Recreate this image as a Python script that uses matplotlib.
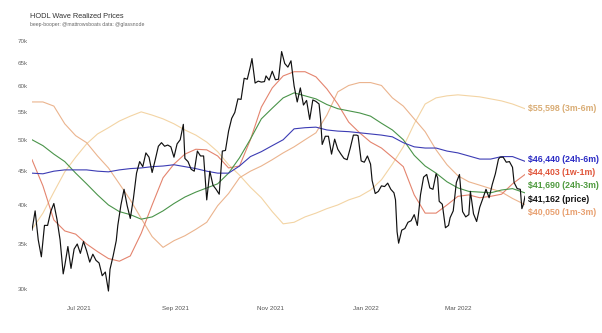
import numpy as np
import pandas as pd
import matplotlib
matplotlib.use("Agg")
import matplotlib.pyplot as plt
from matplotlib.ticker import FixedLocator, NullLocator, FuncFormatter

# --- data (values in $k) ---
price_dates = [
    "2021-06-01", "2021-06-03", "2021-06-05", "2021-06-07", "2021-06-09", "2021-06-11",
    "2021-06-13", "2021-06-15", "2021-06-17", "2021-06-19", "2021-06-21", "2021-06-22",
    "2021-06-24", "2021-06-26", "2021-06-28", "2021-06-30", "2021-07-02", "2021-07-04",
    "2021-07-06", "2021-07-08", "2021-07-10", "2021-07-12", "2021-07-14", "2021-07-16",
    "2021-07-18", "2021-07-20", "2021-07-21", "2021-07-23", "2021-07-25", "2021-07-26",
    "2021-07-28", "2021-07-30", "2021-08-01", "2021-08-03", "2021-08-05", "2021-08-07",
    "2021-08-09", "2021-08-11", "2021-08-13", "2021-08-15", "2021-08-17", "2021-08-19",
    "2021-08-21", "2021-08-23", "2021-08-25", "2021-08-27", "2021-08-29", "2021-08-31",
    "2021-09-02", "2021-09-04", "2021-09-06", "2021-09-07", "2021-09-09", "2021-09-11",
    "2021-09-13", "2021-09-15", "2021-09-17", "2021-09-19", "2021-09-21", "2021-09-23",
    "2021-09-25", "2021-09-27", "2021-09-29", "2021-10-01", "2021-10-03", "2021-10-05",
    "2021-10-07", "2021-10-09", "2021-10-11", "2021-10-13", "2021-10-15", "2021-10-17",
    "2021-10-19", "2021-10-20", "2021-10-22", "2021-10-24", "2021-10-26", "2021-10-28",
    "2021-10-29", "2021-10-31", "2021-11-02", "2021-11-04", "2021-11-06", "2021-11-08",
    "2021-11-10", "2021-11-12", "2021-11-14", "2021-11-16", "2021-11-18", "2021-11-20",
    "2021-11-22", "2021-11-24", "2021-11-26", "2021-11-28", "2021-11-30", "2021-12-02",
    "2021-12-03", "2021-12-04", "2021-12-06", "2021-12-08", "2021-12-10", "2021-12-12",
    "2021-12-14", "2021-12-16", "2021-12-18", "2021-12-20", "2021-12-22", "2021-12-24",
    "2021-12-26", "2021-12-27", "2021-12-29", "2021-12-31", "2022-01-02", "2022-01-04",
    "2022-01-05", "2022-01-07", "2022-01-09", "2022-01-11", "2022-01-13", "2022-01-15",
    "2022-01-17", "2022-01-19", "2022-01-20", "2022-01-21", "2022-01-22", "2022-01-24",
    "2022-01-26", "2022-01-28", "2022-01-30", "2022-02-01", "2022-02-03", "2022-02-05",
    "2022-02-07", "2022-02-09", "2022-02-11", "2022-02-13", "2022-02-15", "2022-02-16",
    "2022-02-17", "2022-02-19", "2022-02-21", "2022-02-23", "2022-02-24", "2022-02-26",
    "2022-02-28", "2022-03-02", "2022-03-04", "2022-03-06", "2022-03-08", "2022-03-09",
    "2022-03-11", "2022-03-13", "2022-03-15", "2022-03-17", "2022-03-19", "2022-03-21",
    "2022-03-23", "2022-03-25", "2022-03-27", "2022-03-28", "2022-03-30", "2022-04-01",
    "2022-04-03", "2022-04-05", "2022-04-06", "2022-04-08", "2022-04-10", "2022-04-11",
    "2022-04-12", "2022-04-13",
]
price = [
    36.7, 39.2, 35.5, 33.5, 37.3, 37.3, 39.1, 40.2, 38.1, 35.5, 31.6, 32.5,
    34.7, 32.2, 34.4, 35.0, 33.9, 35.3, 34.2, 32.9, 33.8, 33.1, 32.8, 31.4,
    31.8, 29.8, 32.1, 33.6, 35.4, 37.3, 40.0, 42.2, 39.9, 38.2, 40.9, 44.6,
    46.4, 45.6, 47.8, 47.1, 44.7, 46.7, 48.9, 49.5, 48.9, 49.1, 48.8, 47.1,
    49.3, 50.0, 52.7, 46.9, 46.4, 45.2, 44.9, 48.1, 47.3, 47.3, 40.7, 44.9,
    42.8, 42.2, 41.5, 48.1, 48.2, 51.5, 53.8, 54.9, 57.5, 57.4, 61.7, 61.5,
    64.3, 66.0, 60.7, 61.1, 60.9, 61.0, 62.2, 61.3, 63.2, 61.4, 61.5, 67.6,
    64.9, 64.1, 65.5, 60.1, 56.9, 59.7, 56.3, 57.2, 53.6, 57.3, 57.0, 56.5,
    53.6, 49.2, 50.6, 50.6, 47.6, 50.1, 48.4, 47.6, 46.9, 46.7, 48.6, 50.8,
    50.8, 50.7, 46.5, 46.3, 47.3, 46.0, 43.5, 41.6, 41.9, 42.7, 42.6, 43.1,
    42.2, 41.7, 40.7, 36.5, 35.1, 36.7, 36.9, 37.7, 37.9, 38.7, 37.3, 41.4,
    44.0, 44.4, 42.4, 42.2, 44.5, 43.9, 40.5, 40.1, 37.0, 37.3, 38.3, 39.2,
    43.2, 44.4, 39.1, 38.4, 38.7, 41.9, 38.8, 37.8, 39.7, 40.9, 42.2, 41.0,
    42.9, 44.5, 46.8, 47.1, 47.1, 46.3, 46.4, 45.5, 43.2, 42.3, 42.2, 39.5,
    40.1, 41.2,
]

wave_dates = [
    "2021-06-01", "2021-06-08", "2021-06-15", "2021-06-22", "2021-06-29", "2021-07-06",
    "2021-07-13", "2021-07-20", "2021-07-27", "2021-08-03", "2021-08-10", "2021-08-17",
    "2021-08-24", "2021-08-31", "2021-09-07", "2021-09-14", "2021-09-21", "2021-09-28",
    "2021-10-05", "2021-10-12", "2021-10-19", "2021-10-26", "2021-11-02", "2021-11-09",
    "2021-11-16", "2021-11-23", "2021-11-30", "2021-12-07", "2021-12-14", "2021-12-21",
    "2021-12-28", "2022-01-04", "2022-01-11", "2022-01-18", "2022-01-25", "2022-02-01",
    "2022-02-08", "2022-02-15", "2022-02-22", "2022-03-01", "2022-03-08", "2022-03-15",
    "2022-03-22", "2022-03-29", "2022-04-05", "2022-04-13",
]
rp_24h_6m = [44.6, 44.5, 44.9, 45.1, 45.1, 45.1, 44.9, 44.8, 45.1, 45.3, 45.4, 45.6,
             45.7, 45.9, 45.6, 45.3, 44.9, 44.6, 44.6, 45.7, 47.2, 48.0, 49.0, 50.0,
             51.9, 52.1, 52.2, 51.7, 51.5, 51.4, 51.2, 51.0, 50.8, 50.5, 49.5, 48.8,
             48.6, 48.6, 48.1, 47.8, 47.3, 46.8, 46.8, 47.2, 47.2, 46.44]
rp_1w_1m = [46.7, 42.7, 38.0, 36.6, 36.2, 35.0, 34.1, 33.3, 33.0, 33.6, 36.3, 40.0,
            43.9, 46.0, 47.6, 48.4, 48.3, 47.3, 45.4, 45.7, 50.0, 55.9, 59.7, 62.2,
            63.1, 63.1, 62.0, 59.5, 56.5, 53.1, 51.2, 49.6, 48.6, 47.1, 45.6, 41.4,
            38.9, 38.9, 40.0, 41.2, 41.4, 41.0, 41.2, 41.5, 43.0, 44.40]
rp_24h_3m = [50.0, 49.0, 47.6, 46.4, 44.6, 43.0, 41.4, 40.0, 39.1, 38.7, 38.1, 38.4,
             39.2, 40.2, 41.1, 41.8, 42.4, 43.0, 44.6, 47.0, 50.1, 53.7, 55.7, 57.7,
             58.7, 58.1, 57.5, 56.4, 55.6, 55.2, 54.8, 54.2, 52.9, 51.7, 50.0, 47.4,
             45.7, 44.6, 43.3, 42.4, 41.9, 41.8, 41.7, 42.1, 42.3, 41.69]
rp_1m_3m = [56.9, 56.9, 56.1, 52.8, 50.7, 49.5, 47.3, 45.4, 43.0, 40.7, 38.2, 35.9,
            34.6, 35.4, 36.0, 36.8, 37.7, 39.9, 41.6, 43.9, 44.9, 45.7, 46.7, 47.8,
            48.8, 50.0, 51.2, 54.4, 58.9, 60.2, 60.8, 60.8, 60.2, 57.7, 56.1, 53.7,
            51.4, 48.3, 45.9, 44.2, 43.3, 42.8, 42.3, 41.8, 40.9, 40.05]
rp_3m_6m = [36.8, 38.9, 41.8, 44.8, 47.1, 49.3, 51.0, 52.1, 53.3, 54.2, 55.0, 54.4,
            53.7, 52.8, 51.7, 50.8, 49.6, 48.0, 45.9, 44.3, 42.5, 41.0, 39.1, 37.5,
            37.7, 38.4, 38.9, 39.5, 40.0, 40.7, 41.2, 42.1, 43.6, 46.0, 48.8, 52.8,
            56.5, 57.7, 58.1, 58.3, 58.1, 57.9, 57.5, 57.1, 56.5, 55.6]

last_values = {"3m-6m": 55598, "24h-6m": 46440, "1w-1m": 44403,
               "24h-3m": 41690, "price": 41162, "1m-3m": 40050}
yticks_k = [30, 35, 40, 45, 50, 55, 60, 65, 70]

# --- plot ---
plt.rcParams["font.family"] = ["Liberation Sans", "DejaVu Sans"]
fig = plt.figure(figsize=(6.02, 3.33), dpi=100)
ax = fig.add_axes([32 / 602, 41 / 333, 493 / 602, 256 / 333])

wd = pd.to_datetime(wave_dates)
series = [
    ("3m-6m", rp_3m_6m, "#f3d4a4", "#d9ac74"),
    ("1m-3m", rp_1m_3m, "#ebb48e", "#e8a070"),
    ("1w-1m", rp_1w_1m, "#e4846e", "#e0553a"),
    ("24h-3m", rp_24h_3m, "#4a944a", "#4e9a3e"),
    ("24h-6m", rp_24h_6m, "#3c3cb4", "#2a2ac4"),
]
label_colors = {}
for name, vals, lc, tc in series:
    ax.plot(wd, np.array(vals) * 1000, color=lc, lw=0.8)
    label_colors[name] = tc
ax.plot(pd.to_datetime(price_dates), np.array(price) * 1000, color="#111111", lw=0.85)
label_colors["price"] = "#111111"

ax.set_yscale("log")
ax.set_ylim(29700, 71300)
ax.set_xlim(pd.Timestamp("2021-06-01"), pd.Timestamp("2022-04-13"))
ax.yaxis.set_major_locator(FixedLocator([k * 1000 for k in yticks_k]))
ax.yaxis.set_minor_locator(NullLocator())
ax.yaxis.set_major_formatter(FuncFormatter(lambda v, p: f"{v / 1000:.0f}k"))
xt = pd.to_datetime(["2021-07-01", "2021-09-01", "2021-11-01", "2022-01-01", "2022-03-01"])
ax.set_xticks(xt)
ax.set_xticklabels([d.strftime("%b %Y") for d in xt])
ax.tick_params(axis="y", length=0, labelsize=4.5, labelcolor="#666666", pad=3)
ax.tick_params(axis="x", length=0, labelsize=4.5, labelcolor="#555555", pad=10)
for s in ax.spines.values():
    s.set_visible(False)

# right-hand labels, nudged apart in log space
names = sorted(last_values, key=lambda n: -last_values[n])
ys = np.log([last_values[n] for n in names])
gap = 0.045
for _ in range(200):
    for i in range(len(ys) - 1):
        d = ys[i] - ys[i + 1]
        if d < gap:
            ys[i] += (gap - d) / 2
            ys[i + 1] -= (gap - d) / 2
for n, y in zip(names, ys):
    ax.annotate(f"${last_values[n]:,} ({n})", xy=(1, np.exp(y)),
                xycoords=ax.get_yaxis_transform(), xytext=(2.5, 0),
                textcoords="offset points", va="center", ha="left",
                fontsize=6.3, fontweight="bold", color=label_colors[n],
                annotation_clip=False)

fig.text(30 / 602, 1 - 17 / 333, "HODL Wave Realized Prices", fontsize=5.3,
         color="#333333", va="center")
fig.text(30 / 602, 1 - 24.5 / 333, "beep-booper: @mattrowsboats data: @glassnode",
         fontsize=3.7, color="#666666", va="center")

fig.savefig("out.png", dpi=100)
